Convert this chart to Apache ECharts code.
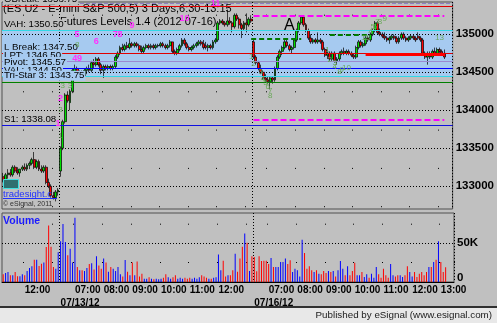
<!DOCTYPE html>
<html><head><meta charset="utf-8">
<script src="https://cdn.jsdelivr.net/npm/echarts@6/dist/echarts.min.js"></script>
<style>html,body{margin:0;padding:0;background:#c0c0c0;overflow:hidden}#c{width:497px;height:323px;}</style>
</head><body><div id="c"></div>
<script>
// ---------- DATA ----------
const sessions = [
  { date: '07/12/12', start: '11:15' },
  { date: '07/13/12', start: '06:30' },
  { date: '07/16/12', start: '06:30' }
];
// [open, high, low, close]
const day1 = [
[1331.25,1331.75,1330.50,1330.75],[1330.75,1331.75,1330.50,1331.50],[1331.50,1332.25,1331.00,1331.75],
[1331.75,1332.25,1331.25,1331.50],[1331.50,1332.75,1331.25,1332.50],[1332.50,1332.75,1331.75,1332.00],
[1332.00,1332.50,1331.50,1331.75],[1331.75,1332.25,1331.25,1332.25],[1332.25,1332.75,1332.00,1332.50],
[1332.50,1333.00,1332.00,1332.25],[1332.25,1333.00,1332.00,1332.75],[1332.75,1333.25,1332.25,1333.00],
[1333.00,1333.75,1332.75,1333.50],[1333.50,1334.50,1332.25,1332.50],[1332.50,1333.50,1332.25,1333.25],
[1333.25,1333.50,1332.00,1332.25],[1332.25,1332.75,1331.75,1332.00],[1332.00,1332.75,1331.75,1332.50],
[1332.50,1332.75,1330.25,1330.50],[1330.50,1331.00,1329.75,1330.00],[1330.00,1330.25,1328.50,1328.75],
[1328.75,1329.25,1328.25,1328.50],[1328.50,1329.50,1328.00,1329.25],[1329.25,1329.75,1328.75,1329.50]
];
const day2 = [
[1332.00,1335.25,1331.25,1335.00],[1335.00,1338.75,1334.75,1338.50],[1338.50,1342.25,1338.25,1342.00],
[1342.00,1342.50,1341.00,1341.25],[1341.00,1342.75,1340.00,1342.50],[1342.50,1345.50,1342.25,1345.25],
[1345.00,1346.00,1344.00,1345.50],[1345.50,1345.75,1344.50,1344.75],[1344.75,1345.25,1344.25,1345.00],
[1345.00,1345.25,1344.25,1344.50],[1344.50,1345.50,1344.25,1345.25],[1345.25,1345.75,1344.75,1345.50],
[1345.50,1346.00,1345.00,1345.25],[1345.25,1346.50,1345.00,1346.25],[1346.25,1346.75,1345.50,1346.00],
[1346.00,1347.00,1345.75,1346.75],[1346.75,1347.00,1345.75,1346.00],[1346.00,1346.25,1344.75,1345.25],
[1345.25,1346.00,1344.25,1345.75],[1345.75,1346.00,1345.25,1345.50],[1345.50,1346.00,1345.25,1345.75],
[1345.75,1346.00,1345.25,1345.50],[1345.50,1346.00,1345.25,1345.75],[1345.75,1347.25,1345.50,1347.00],
[1347.00,1347.75,1346.75,1347.50],[1347.50,1348.50,1347.25,1348.25],[1348.25,1348.75,1347.75,1348.00],
[1348.00,1348.75,1347.75,1348.50],[1348.50,1349.00,1348.00,1348.25],[1348.25,1349.50,1348.00,1348.75],
[1348.75,1349.00,1348.25,1348.50],[1348.50,1349.00,1348.25,1348.75],[1348.75,1349.00,1348.25,1348.50],
[1348.50,1348.75,1347.75,1348.00],[1348.00,1348.50,1347.50,1347.75],[1347.75,1348.50,1347.50,1348.25],
[1348.25,1348.75,1348.00,1348.50],[1348.50,1348.75,1348.00,1348.25],[1348.25,1348.75,1348.00,1348.50],
[1348.50,1348.75,1348.00,1348.25],[1348.25,1348.75,1348.00,1348.50],[1348.50,1348.75,1348.25,1348.50],
[1348.50,1349.00,1348.25,1348.75],[1348.75,1349.00,1348.25,1348.50],[1348.50,1348.75,1348.00,1348.25],
[1348.25,1348.75,1348.00,1348.50],[1348.50,1349.25,1348.25,1349.00],[1349.00,1349.00,1347.50,1347.75],
[1347.75,1348.00,1347.25,1347.50],[1347.50,1348.25,1347.25,1348.00],[1348.00,1348.75,1347.75,1348.50],
[1348.50,1349.50,1348.25,1349.25],[1349.25,1349.50,1348.50,1348.75],[1348.75,1349.00,1348.00,1348.25],
[1348.25,1348.50,1347.75,1348.00],[1348.00,1348.50,1347.75,1348.25],[1348.25,1348.75,1348.00,1348.50],
[1348.50,1349.00,1348.25,1348.75],[1348.75,1349.25,1348.50,1349.00],[1349.00,1349.25,1348.50,1348.75],
[1348.75,1349.25,1348.00,1348.25],[1348.50,1349.00,1348.00,1348.25],[1348.25,1348.75,1347.75,1348.50],
[1348.50,1348.75,1348.00,1348.25],[1348.25,1349.25,1348.00,1349.00],[1349.00,1349.50,1348.75,1349.25],
[1349.25,1351.75,1349.00,1351.50],[1351.50,1352.00,1351.25,1351.75],[1351.75,1352.00,1351.25,1351.50],
[1351.50,1351.75,1351.00,1351.25],[1351.25,1353.25,1351.00,1351.75],[1351.75,1352.25,1351.25,1351.50],
[1351.50,1351.75,1350.25,1351.00],[1351.00,1352.75,1350.75,1352.50],[1352.50,1352.75,1351.75,1352.00],
[1352.00,1352.25,1350.75,1351.25],[1351.25,1351.50,1349.50,1350.75],[1350.75,1351.75,1350.50,1351.50],
[1351.50,1352.75,1350.25,1351.25],[1351.25,1352.25,1351.00,1352.00],[1352.00,1352.50,1351.50,1351.75]
];
const day3 = [
[1349.00,1349.25,1346.75,1347.00],[1347.00,1347.25,1346.00,1346.25],[1346.25,1346.50,1345.25,1345.50],
[1345.50,1346.00,1344.75,1345.00],[1345.00,1345.25,1344.00,1344.25],[1344.25,1344.75,1343.75,1344.00],
[1344.00,1344.50,1343.50,1343.75],[1343.75,1344.50,1342.75,1344.25],[1344.25,1344.50,1343.50,1344.00],
[1344.00,1345.75,1343.75,1345.50],[1345.50,1347.25,1345.25,1347.00],[1347.00,1348.00,1346.75,1347.75],
[1347.75,1348.50,1347.25,1348.25],[1348.25,1349.25,1348.00,1349.00],[1349.00,1349.25,1348.25,1348.50],
[1348.50,1348.75,1347.75,1348.00],[1348.00,1348.50,1347.50,1348.25],[1348.25,1349.50,1348.00,1349.25],
[1349.25,1350.75,1349.00,1350.50],[1350.50,1351.75,1350.25,1351.50],[1351.50,1352.50,1351.25,1352.25],
[1352.25,1352.50,1351.00,1351.25],[1351.25,1351.50,1350.25,1350.50],[1350.50,1350.75,1349.25,1349.50],
[1349.50,1350.00,1348.75,1349.00],[1349.00,1349.50,1348.75,1349.25],[1349.25,1349.50,1348.75,1349.00],
[1349.00,1350.25,1348.75,1349.25],[1349.25,1349.50,1348.75,1349.00],[1349.00,1349.25,1347.75,1348.00],
[1348.00,1348.25,1347.00,1347.25],[1347.25,1348.00,1346.75,1347.50],[1347.50,1347.75,1346.50,1346.75],
[1346.75,1347.75,1346.50,1347.50],[1347.50,1347.75,1346.25,1346.50],[1346.50,1347.00,1346.00,1346.75],
[1346.75,1347.75,1346.50,1347.50],[1347.50,1348.00,1347.25,1347.75],[1347.75,1348.25,1347.25,1347.50],
[1347.50,1348.00,1347.25,1347.75],[1347.75,1348.00,1347.25,1347.50],[1347.50,1347.75,1347.00,1347.25],
[1347.25,1347.50,1346.75,1347.00],[1347.00,1348.50,1346.75,1348.25],[1348.25,1349.25,1348.00,1349.00],
[1349.00,1349.25,1348.25,1348.50],[1348.50,1349.00,1348.25,1348.75],[1348.75,1349.75,1348.50,1349.50],
[1349.50,1349.75,1349.00,1349.25],[1349.25,1350.25,1349.00,1350.00],[1350.00,1350.75,1349.75,1350.50],
[1350.50,1351.75,1350.25,1351.50],[1351.50,1351.75,1350.00,1350.25],[1350.25,1350.75,1349.75,1350.00],
[1350.00,1350.25,1349.50,1349.75],[1349.75,1350.25,1349.25,1349.50],[1349.50,1349.75,1349.00,1349.25],
[1349.25,1349.75,1348.75,1349.50],[1349.50,1350.00,1349.25,1349.75],[1349.75,1350.00,1349.25,1349.50],
[1349.50,1349.75,1348.75,1349.00],[1349.00,1349.75,1348.75,1349.50],[1349.50,1350.25,1349.25,1350.00],
[1350.00,1350.25,1349.25,1349.50],[1349.50,1349.75,1349.00,1349.25],[1349.25,1349.75,1349.00,1349.50],
[1349.50,1350.00,1349.25,1349.75],[1349.75,1350.00,1349.25,1349.50],[1349.50,1349.75,1349.00,1349.25],
[1349.75,1350.25,1349.25,1349.50],[1349.50,1349.75,1349.00,1349.25],[1349.25,1349.50,1347.25,1347.50],
[1347.50,1347.75,1346.75,1347.00],[1347.00,1347.75,1346.00,1347.25],[1347.25,1347.75,1346.75,1347.00],
[1347.00,1348.00,1346.75,1347.75],[1347.75,1348.25,1347.25,1347.50],[1347.50,1348.25,1347.25,1348.00],
[1348.00,1348.25,1347.50,1347.75],[1347.75,1348.00,1347.25,1347.50],[1347.50,1348.00,1346.75,1347.00]
];
const vol1 = [9800,11500,12800,8500,8500,12800,7200,7200,9800,8500,14000,18000,20000,28500,28500,20400,23400,25000,44600,72000,45000,19000,17000,38000];
const vol2 = [52000,74000,51000,34000,42500,25000,82000,19000,15000,15000,
14000,18000,23000,24000,16000,33000,21000,17000,30000,25000,
13000,19000,17000,14000,19000,10000,7000,28000,13000,8500,
25000,8500,26000,7000,10600,4000,4000,6000,4000,3400,
4000,3400,4000,5500,10000,6000,4000,6000,8500,4000,
5500,4000,5500,4000,5500,4000,5500,4000,6000,8500,
7000,5500,4000,4000,5500,6000,35000,15000,27000,7000,
8500,8500,15000,36000,13000,30000,45000,62000,50000,14000,33000];
const vol3 = [32000,13600,32700,26800,27000,27000,23000,30600,19000,19000,
19000,25500,25500,30000,23000,27600,12800,17000,15000,7000,
54000,37000,17000,20000,15000,12800,15000,10600,9800,14000,
11500,14000,12800,14000,7000,15000,26800,17000,8500,20000,
8500,14000,24600,8500,8500,12800,6400,9800,5500,10600,
5500,19000,9800,5500,17000,8500,5500,23000,8500,7000,
8500,8500,6400,8500,20000,12800,7000,12800,6400,10600,
12800,8500,12800,19000,19000,25500,28500,52000,25500,12800,18688];

// price levels (name, value)
const levels = [
  ['OBreak', 1353.75], ['VAH', 1350.50], ['L Break', 1347.50], ['LPT', 1346.50],
  ['Pivot', 1345.57], ['VAL', 1344.50], ['Tri-Star 3', 1343.75], ['S1', 1338.08]
];
const topLevel = 1354.10;
// partial lines: [fromIndex, toIndex, price]
const magentaDash = [[105, 185, 1352.45], [105, 185, 1338.70]];
const greenDash = [[104, 125, 1349.42], [137, 153, 1349.97]];
const redThick = [[152, 185, 1347.40]];
// count annotations: [text, index, price]
const magentaCounts = [['5',31,1350.0],['6',39,1349.1],['7',47,1350.0],['8',49,1350.0],['9',54,1351.2],
  ['10',76,1352.1],['11',89,1354.1],['4',30,1346.8],['9',32,1346.8],['2',24,1341.6],['1',23,1338.3]];
const greenCounts = [['8',31,1348.6],['3',24,1340.0],['1',24,1336.6],['3',25,1343.2],['3',28,1343.2],
  ['1',104,1347.0],['2',105,1346.1],['3',108,1345.1],['4',109,1344.1],['5',110,1343.6],['6',111,1343.1],['7',112,1342.5],['8',112,1341.9],
  ['1',136,1347.9],['2',137,1346.7],['3',139,1346.2],['4',139,1345.7],['8',141,1345.0],['9',142,1345.3],['10',144,1345.6],
  ['1',151,1349.5],['2',152,1349.5],['3',153,1349.5],['4',154,1350.3],['5',155,1351.0],['6',156,1351.0],['7',157,1351.6],['8',158,1351.6],['9',160,1352.0],
  ['13',183,1349.5]];
const letterMarks = [['A',120,1351.2]];

// ---------- BUILD ----------
const dayBars = [day1, day2, day3];
const bars = day1.concat(day2, day3);
const vols = vol1.concat(vol2, vol3);
const cats = [], labelAt = {}, hourIdx = new Set(), sepIdx = new Set();
const pad2 = n => String(n).padStart(2, '0');
let n = 0;
sessions.forEach((s, si) => {
  const [h0, m0] = s.start.split(':').map(Number);
  dayBars[si].forEach((b, k) => {
    const t = h0 * 60 + m0 + 5 * k, h = Math.floor(t / 60), m = t % 60;
    const hm = pad2(h) + ':' + pad2(m);
    cats.push(s.date + ' ' + hm);
    if (k === 0 && si > 0) { labelAt[n] = '\n' + s.date; sepIdx.add(n); }
    else if (m === 0 && (h < 13 || si === sessions.length - 1)) labelAt[n] = hm;
    if (m === 0) hourIdx.add(n);
    n++;
  });
});
for (let k = 0; k < 3; k++) cats.push('pad' + k);

const candleData = bars.map(b => [b[0], b[3], b[2], b[1]]);
const lastClose = bars[bars.length - 1][3];
const lastVol = vols[vols.length - 1];

const FONT = '"Liberation Sans", Arial, sans-serif';
const BAND = '#a6caf0';
const levelStyle = {
  'OBreak': ['#e00000', '#c0c0c0'], 'VAH': ['#30d8e8', '#c0c0c0'], 'L Break': ['#e00000', BAND],
  'LPT': ['#9a8ad0', BAND], 'Pivot': ['#0000ff', BAND], 'VAL': ['#30d8e8', BAND],
  'Tri-Star 3': ['#008000', BAND], 'S1': ['#1010e0', '#c0c0c0']
};

const levelLines = levels.map(([name, v]) => ({
  yAxis: v,
  lineStyle: { color: levelStyle[name][0], width: 1, type: 'solid' },
  label: {
    show: true, position: 'insideStartTop', distance: [1, 1],
    formatter: name + ': ' + v.toFixed(2), color: '#000', fontSize: 9.7, fontFamily: FONT,
    backgroundColor: levelStyle[name][1], padding: [0, 1, 0, 1], lineHeight: 10
  }
}));
const seg = (arr, style) => arr.map(([a, b, v]) => [
  { coord: [cats[a], v], lineStyle: style, label: { show: false } },
  { coord: [cats[b], v] }
]);
const markLineData = [
  { yAxis: topLevel, lineStyle: { color: '#8e7fc0', width: 1 }, label: { show: false } },
  ...levelLines,
  ...seg(magentaDash, { color: '#ff00ff', width: 2, type: [6, 3] }),
  ...seg(greenDash, { color: '#007a00', width: 2, type: [5, 3] }),
  ...seg(redThick, { color: '#ff0000', width: 3, type: 'solid' }),
  { yAxis: lastClose, lineStyle: { opacity: 0 },
    label: { show: true, position: 'end', distance: 1, formatter: (lastClose * 100).toFixed(0),
      backgroundColor: '#ff0000', color: '#fff', fontWeight: 'bold', fontSize: 12, fontFamily: FONT, padding: [1, 3, 0, 2] } }
];

const mp = (arr, color, size, weight) => arr.map(([t, i, p]) => ({
  coord: [cats[i], p], symbol: 'circle', symbolSize: 1, itemStyle: { color: 'rgba(0,0,0,0)' },
  label: { show: true, position: 'inside', formatter: t, color: color, fontSize: size, fontWeight: weight, fontFamily: FONT }
}));
const markPointData = [
  ...mp(greenCounts, '#6aa85a', 8, 'normal'),
  ...mp(magentaCounts, '#ff30ff', 9, 'bold'),
  ...mp(letterMarks, '#000', 16, 'normal')
];

const hourSplit = (offset) => ({
  show: true, interval: (i) => hourIdx.has(i),
  lineStyle: { color: '#000', width: 1, type: [1, 37.3], dashOffset: offset }
});
const baseX = (g, extra) => Object.assign({
  type: 'category', gridIndex: g, data: cats, boundaryGap: true, z: 1.5,
  axisLine: { show: false }, axisTick: { show: false }, axisLabel: { show: false }
}, extra);
const sepX = (g) => baseX(g, {
  position: 'top',
  splitLine: { show: true, interval: (i) => sepIdx.has(i), lineStyle: { color: '#000', width: 1, type: [1, 2] } }
});
const axisFont = { color: '#000', fontWeight: 'bold', fontSize: 11.5, fontFamily: FONT };

const option = {
  animation: false,
  backgroundColor: '#c0c0c0',
  textStyle: { fontFamily: FONT },
  grid: [
    { left: 2, top: 2, width: 452, height: 207, show: true, borderColor: '#505050', borderWidth: 1, backgroundColor: 'transparent' },
    { left: 2, top: 213, width: 452, height: 69, show: true, borderColor: '#505050', borderWidth: 1, backgroundColor: 'transparent' }
  ],
  xAxis: [
    baseX(0, { splitLine: hourSplit(25.6) }),
    baseX(1, {
      splitLine: hourSplit(27.6),
      axisLine: { show: true, lineStyle: { color: '#000', width: 1 } },
      axisLabel: {
        show: true, interval: (i) => labelAt[i] !== undefined, formatter: (v, i) => labelAt[i] || '',
        align: 'left', verticalAlign: 'top', margin: 2, lineHeight: 13,
        fontSize: 10, fontWeight: 'bold', color: '#000', fontFamily: FONT
      }
    }),
    sepX(0), sepX(1)
  ],
  yAxis: [
    { type: 'value', gridIndex: 0, position: 'right', min: 1327.0, max: 1354.25, splitNumber: 5, z: 1.5,
      axisLine: { show: false }, axisTick: { show: false },
      axisLabel: Object.assign({ margin: 3, showMinLabel: false, showMaxLabel: false, formatter: v => (v * 100).toFixed(0) }, axisFont),
      splitLine: { show: true, showMinLine: false, showMaxLine: false, lineStyle: { color: '#000', width: 1, type: [1, 2] } } },
    { type: 'value', gridIndex: 1, position: 'right', min: 0, max: 88000, interval: 50000, z: 1.5,
      axisLine: { show: false }, axisTick: { show: false },
      axisLabel: Object.assign({ margin: 3, showMaxLabel: false,
        formatter: v => v === 0 ? '{z|0}' : (v / 1000) + 'K',
        rich: { z: Object.assign({ padding: [0, 0, 9, 0] }, axisFont) } }, axisFont),
      splitLine: { show: true, showMinLine: false, showMaxLine: false, lineStyle: { color: '#000', width: 1, type: [1, 2] } } }
  ],
  series: [
    {
      type: 'candlestick', xAxisIndex: 0, yAxisIndex: 0, data: candleData, barWidth: 2.4,
      itemStyle: { color: '#00e000', color0: '#ff0000', borderColor: '#000', borderColor0: '#000', borderWidth: 0.7 },
      markArea: { silent: true, z: 1, itemStyle: { color: BAND }, data: [[{ yAxis: levels[1][1] }, { yAxis: levels[5][1] }]] },
      markLine: { silent: true, symbol: ['none', 'none'], animation: false, data: markLineData },
      markPoint: { silent: true, animation: false, data: markPointData }
    },
    {
      type: 'bar', xAxisIndex: 1, yAxisIndex: 1, data: vols, barWidth: 1,
      itemStyle: { color: p => { const b = bars[p.dataIndex]; return b && b[3] >= b[0] ? '#0000ff' : '#ff0000'; } },
      markLine: { silent: true, symbol: ['none', 'none'], animation: false, data: [
        { yAxis: lastVol, lineStyle: { opacity: 0 },
          label: { show: true, position: 'end', distance: 1, formatter: (lastVol / 1000).toFixed(3) + 'K',
            backgroundColor: '#ff0000', color: '#fff', fontWeight: 'bold', fontSize: 12, fontFamily: FONT, padding: [1, 3, 0, 2] } }
      ] }
    }
  ],
  graphic: [
    { type: 'rect', left: 0, top: 306, shape: { width: 497, height: 2 }, style: { fill: '#303030' }, z: 0 },
    { type: 'rect', left: 0, top: 308, shape: { width: 497, height: 15 }, style: { fill: '#e8e8e8' }, z: 0 },
    { type: 'text', right: 5, top: 310, style: { text: 'Published by eSignal (www.esignal.com)', font: '9.8px ' + FONT, fill: '#202020' }, z: 3 },
    { type: 'text', left: 3, top: 3, style: { text: '(ES U2 - E-mini S&P 500,5) 3 Days,6:30-13:15', font: '11px ' + FONT, fill: '#000' }, z: 3 },
    { type: 'text', left: 60, top: 16, style: { text: 'Futures Levels 1.4 (2012 07-16)', font: '11px ' + FONT, fill: '#000' }, z: 3 },
    { type: 'rect', left: 3, top: 179, shape: { width: 15, height: 9 }, style: { fill: '#2f6f6f', stroke: '#40e0e0', lineWidth: 1 }, z: 3 },
    { type: 'text', left: 3, top: 189, style: { text: 'tradesight.com', font: '9.5px ' + FONT, fill: '#2030ff', width: 54, overflow: 'truncate', ellipsis: '' }, z: 3 },
    { type: 'rect', left: 3, top: 198, shape: { width: 54, height: 1 }, style: { fill: '#2030ff' }, z: 3 },
    { type: 'text', left: 3, top: 201, style: { text: '\u00a9 eSignal, 2011', font: '7px ' + FONT, fill: '#303030' }, z: 3 },
    { type: 'text', left: 3, top: 216, style: { text: 'Volume', font: 'bold 10.5px ' + FONT, fill: '#1a1aff' }, z: 3 }
  ]
};
const chart = echarts.init(document.getElementById('c'), null, { renderer: 'canvas' });
chart.setOption(option);
</script></body></html>
